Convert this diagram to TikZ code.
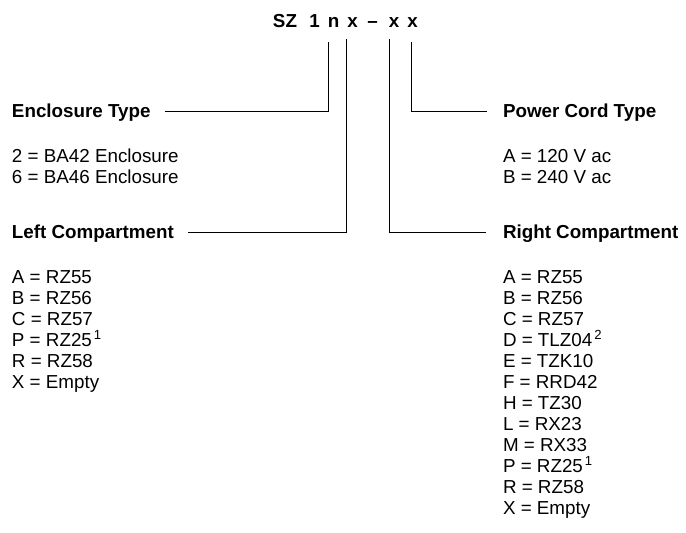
\documentclass[tikz,border=0pt]{standalone}
\usepackage{fontspec}
\setmainfont{Liberation Sans}
\newcommand{\supnum}[1]{\hspace{2pt}\textsuperscript{#1}}
\begin{document}
\begin{tikzpicture}[x=1pt,y=-1pt,
  every node/.style={inner sep=0pt, outer sep=0pt, anchor=base west,
    font=\fontsize{18.8}{21}\selectfont},
  head/.style={font=\fontsize{18.8}{21}\selectfont\bfseries},
  tchar/.style={anchor=base, font=\fontsize{18.8}{21}\selectfont\bfseries},
  conn/.style={line width=1pt, line join=miter}]
\useasboundingbox (0,0) rectangle (686,533);
% title characters
\node[tchar] (tsz) at (285,27) {SZ};
\node[tchar] (t1) at (314.5,27) {1};
\node[tchar] (tn) at (333.5,27) {n};
\node[tchar] (tx1) at (352.5,27) {x};
\node[tchar] (tdash) at (372.5,27) {--};
\node[tchar] (tx2) at (394,27) {x};
\node[tchar] (tx3) at (412.5,27) {x};
% line tops
\coordinate (v1) at (328,42);
\coordinate (v2) at (346,39);
\coordinate (v3) at (389,39);
\coordinate (v4) at (411,42);
% headers
\node[head] (enc) at (12,117) {Enclosure Type};
\node[head] (lc) at (12,238) {Left Compartment};
\node[head] (pc) at (503,117) {Power Cord Type};
\node[head] (rc) at (503,238) {Right Compartment};
% connectors
\draw[conn] (v1) |- ([shift={(14,-6)}]enc.base east);
\draw[conn] (v2) |- ([shift={(14,-6)}]lc.base east);
\draw[conn] (v3) |- ([shift={(-17,-6)}]rc.base west);
\draw[conn] (v4) |- ([shift={(-16,-6)}]pc.base west);
% lists
\foreach \t [count=\i from 0] in {2 = BA42 Enclosure, 6 = BA46 Enclosure}
  \node (enc\i) at (12,{162+21*\i}) {\t};
\foreach \t [count=\i from 0] in {A = 120 V ac, B = 240 V ac}
  \node (pc\i) at (503,{162+21*\i}) {\t};
\foreach \t [count=\i from 0] in {A = RZ55, B = RZ56, C = RZ57, P = RZ25\supnum{1}, R = RZ58, X = Empty}
  \node (lc\i) at (12,{283+21*\i}) {\t};
\foreach \t [count=\i from 0] in {A = RZ55, B = RZ56, C = RZ57, D = TLZ04\supnum{2}, E = TZK10, F = RRD42, H = TZ30, L = RX23, M = RX33, P = RZ25\supnum{1}, R = RZ58, X = Empty}
  \node (rc\i) at (503,{283+21*\i}) {\t};
\end{tikzpicture}
\end{document}
